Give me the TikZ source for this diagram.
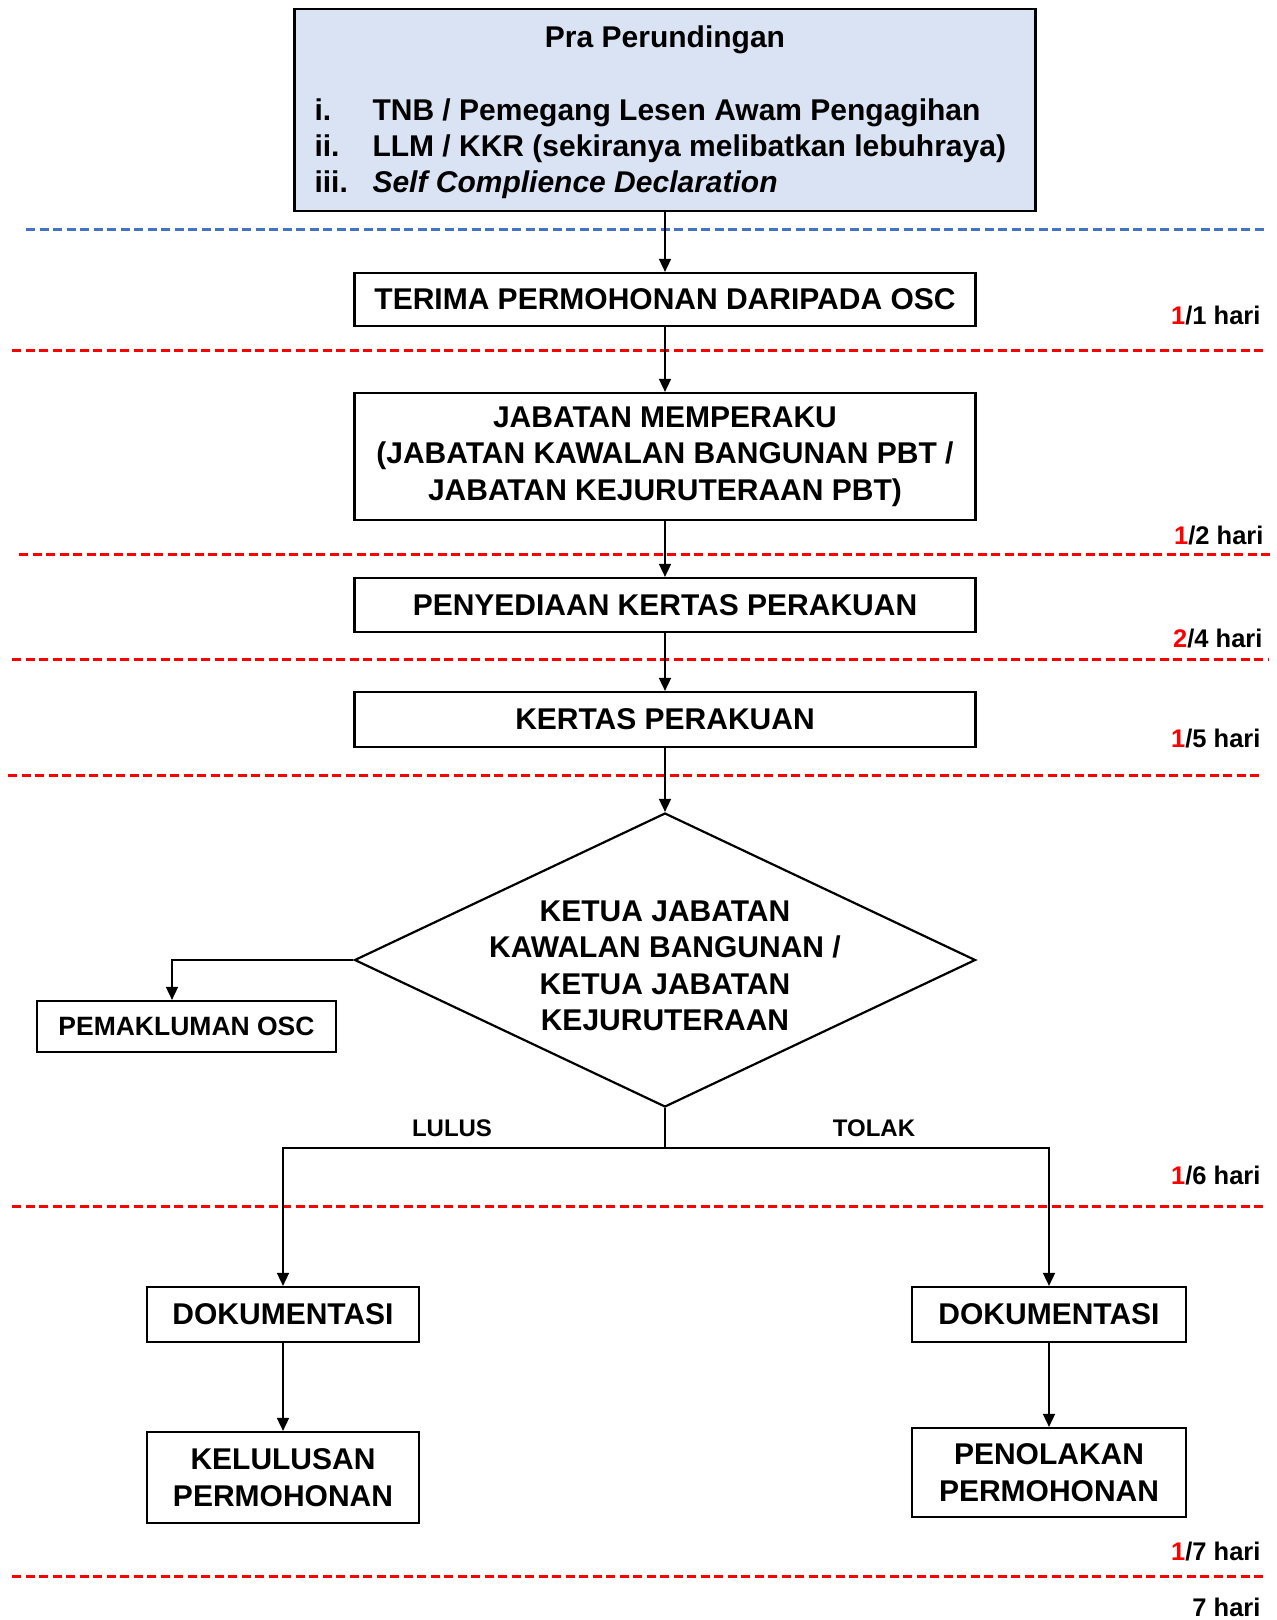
\documentclass[tikz,border=0pt]{standalone}
\usepackage{fontspec}
\setmainfont{Liberation Sans}
\usepackage{tikz}
\usetikzlibrary{arrows.meta,positioning,shapes.geometric}
\definecolor{praFill}{HTML}{DAE3F3}
\definecolor{praLine}{HTML}{4472C4}
\newcommand{\colorHari}{red}
\newcommand{\flowfont}{\fontsize{30}{36.5}\selectfont\bfseries}
\newcommand{\harifont}{\fontsize{25.5}{30}\selectfont\bfseries}
\newcommand{\hari}[2]{{\color{\colorHari}#1}/#2 hari}
\tikzset{
  flowbox/.style={draw, line width=2.2pt, minimum width=621pt, inner sep=0pt, align=center, font=\flowfont},
  flowarrow/.style={line width=1.6pt, -{Triangle[length=13pt,width=12pt]}},
  dayline/.style={\colorHari, line width=3pt, dash pattern=on 9pt off 4.5pt},
  harilabel/.style={anchor=east, font=\harifont}
}

\begin{document}
\begin{tikzpicture}[x=1pt,y=-1pt]
      \useasboundingbox (0,0) rectangle (1277,1620);

      % pra perundingan
      \node[flowbox, fill=praFill, minimum width=741pt, minimum height=202pt] (pra) at (665,110) {};
      \node[font=\flowfont] (praTitle) at (665,40) {Pra Perundingan};
      \node[font=\flowfont, anchor=base west] (itemA) at (311,120) {i.};
      \node[font=\flowfont, anchor=base west] (itemB) at (311,156) {ii.};
      \node[font=\flowfont, anchor=base west] (itemC) at (311,192) {iii.};
      \node[font=\flowfont, anchor=base west] (textA) at (369,120) {TNB / Pemegang Lesen Awam Pengagihan};
      \node[font=\flowfont, anchor=base west] (textB) at (369,156) {LLM / KKR (sekiranya melibatkan lebuhraya)};
      \node[font=\flowfont, anchor=base west] (textC) at (369,192) {\itshape Self Complience Declaration};

      % day lines
      \draw[dayline, color=praLine] (26,229) -- (1267,229);
      \draw[dayline] (12,350) -- (1267,350);
      \draw[dayline] (19,554) -- (1273,554);
      \draw[dayline] (12,659) -- (1268,659);
      \draw[dayline] (8,775) -- (1263,775);
      \draw[dayline] (12,1206) -- (1267,1206);
      \draw[dayline] (12,1576) -- (1267,1576);

      % main flow
      \node[flowbox, minimum height=53pt] (terima) at (665,299.5) {TERIMA PERMOHONAN DARIPADA OSC};
      \node[flowbox, minimum height=127pt] (jabatan) at (665,456.5) {JABATAN MEMPERAKU\\(JABATAN KAWALAN BANGUNAN PBT /\\JABATAN KEJURUTERAAN PBT)};
      \node[flowbox, minimum height=54pt] (sedia) at (665,605) {PENYEDIAAN KERTAS PERAKUAN};
      \node[flowbox, minimum height=55pt] (kertas) at (665,719.5) {KERTAS PERAKUAN};
      \node[draw, diamond, line width=2.2pt, minimum width=621pt, minimum height=294pt, inner sep=0pt] (ketua) at (665,960) {};
      \node[font=\flowfont, align=center] (ketuaText) at (665,966) {KETUA JABATAN\\KAWALAN BANGUNAN /\\KETUA JABATAN\\KEJURUTERAAN};
      \node[flowbox, minimum width=299pt, minimum height=51pt, font=\fontsize{26.5}{30}\selectfont\bfseries] (maklum) at (186.5,1026.5) {PEMAKLUMAN OSC};

      \coordinate (split) at (665,1148);
      \node[font=\fontsize{24}{28}\selectfont\bfseries] (lulus) at (452,1128) {LULUS};
      \node[font=\fontsize{24}{28}\selectfont\bfseries] (tolak) at (874,1128) {TOLAK};

      \node[flowbox, minimum width=272pt, minimum height=55pt] (dokL) at (283,1314.5) {DOKUMENTASI};
      \node[flowbox, minimum width=274pt, minimum height=55pt] (dokR) at (1049,1314.5) {DOKUMENTASI};
      \node[flowbox, minimum width=272pt, minimum height=91pt] (lulusan) at (283,1477.5) {KELULUSAN\\PERMOHONAN};
      \node[flowbox, minimum width=274pt, minimum height=89pt] (tolakan) at (1049,1472.5) {PENOLAKAN\\PERMOHONAN};

      % days
      \node[harilabel] (hariA) at (1264,316) {\hari{1}{1}};
      \node[harilabel] (hariB) at (1267,536) {\hari{1}{2}};
      \node[harilabel] (hariC) at (1266,639) {\hari{2}{4}};
      \node[harilabel] (hariD) at (1264,739) {\hari{1}{5}};
      \node[harilabel] (hariE) at (1264,1176) {\hari{1}{6}};
      \node[harilabel] (hariF) at (1264,1551) {\hari{1}{7}};
      \node[harilabel] (hariG) at (1264,1607) {7 hari};

      % connectors
      \draw[flowarrow] (pra) -- (terima);
      \draw[flowarrow] (terima) -- (jabatan);
      \draw[flowarrow] (jabatan) -- (sedia);
      \draw[flowarrow] (sedia) -- (kertas);
      \draw[flowarrow] (kertas) -- (ketua);
      \draw[flowarrow] (ketua.west) -| ([xshift=-14.5pt]maklum.north);
      \draw[line width=1.6pt] (ketua.south) -- (split);
      \draw[flowarrow] (split) -| (dokL.north);
      \draw[flowarrow] (split) -| (dokR.north);
      \draw[flowarrow] (dokL) -- (lulusan);
      \draw[flowarrow] (dokR) -- (tolakan);
    \end{tikzpicture}
\end{document}
